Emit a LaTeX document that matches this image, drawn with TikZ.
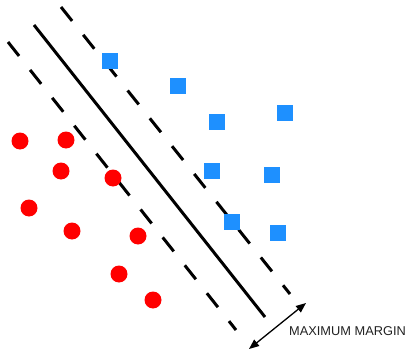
\documentclass[tikz,border=0pt]{standalone}
\usepackage{fontspec}
\setmainfont{Liberation Sans}
\usetikzlibrary{arrows.meta}
\definecolor{sqblue}{RGB}{30,144,255}
\definecolor{dotred}{RGB}{255,0,0}
\tikzset{
  sq/.style={rectangle, fill=sqblue, inner sep=0pt, minimum size=16pt},
  dot/.style={circle, fill=dotred, inner sep=0pt, minimum size=17pt},
  boundary/.style={line width=3pt},
  marginline/.style={line width=3pt, dash pattern=on 17.8pt off 17.8pt},
  marginarrow/.style={line width=1.3pt, {Triangle[length=10pt,width=8pt]}-{Triangle[length=10pt,width=8pt]}},
  lbl/.style={anchor=west, inner sep=0pt, font=\fontsize{12.8pt}{14pt}\selectfont, text=black!87}
}
\begin{document}
\begin{tikzpicture}[x=1pt, y=-1pt]
  \useasboundingbox (0,0) rectangle (408,351);

  % separating hyperplane and the two margin lines
  \coordinate (h1) at (34,25);   \coordinate (h2) at (265,317);
  \coordinate (u1) at (61,7);    \coordinate (u2) at (290,294);
  \coordinate (l1) at (8,42);    \coordinate (l2) at (236,330);
  \draw[boundary] (h1) -- (h2);
  \draw[marginline] (u1) -- (u2);
  \draw[marginline] (l1) -- (l2);

  % class A: blue squares
  \node[sq] (s1) at (110,61) {};
  \node[sq] (s2) at (178,86) {};
  \node[sq] (s3) at (217,122) {};
  \node[sq] (s4) at (285,113) {};
  \node[sq] (s5) at (212,171) {};
  \node[sq] (s6) at (272,175) {};
  \node[sq] (s7) at (232,222) {};
  \node[sq] (s8) at (278,233) {};

  % class B: red dots
  \node[dot] (c1) at (20,141) {};
  \node[dot] (c2) at (66,140) {};
  \node[dot] (c3) at (61,171) {};
  \node[dot] (c4) at (113,178) {};
  \node[dot] (c5) at (29,208) {};
  \node[dot] (c6) at (72,231) {};
  \node[dot] (c7) at (138,236) {};
  \node[dot] (c8) at (119,274) {};
  \node[dot] (c9) at (153,300) {};

  % margin width indicator
  \coordinate (a1) at (249,349);
  \coordinate (a2) at (306,303);
  \draw[marginarrow] (a1) -- (a2);
  \node[lbl] (mm) at (289,331) {MAXIMUM MARGIN};
\end{tikzpicture}
\end{document}
